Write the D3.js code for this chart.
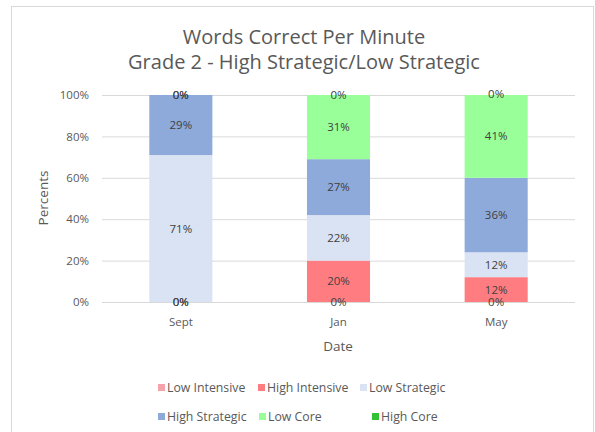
<!DOCTYPE html>
<html><head><meta charset="utf-8">
<script src="https://cdn.jsdelivr.net/npm/d3@7/dist/d3.min.js"></script>
<style>body{margin:0;background:#fff}svg{display:block}</style>
</head><body>
<script>
const categories = ["Sept", "Jan", "May"];
const seriesNames = ["Low Intensive", "High Intensive", "Low Strategic", "High Strategic", "Low Core", "High Core"];
const lowIntensive = [0, 0, 0];
const highIntensive = [0, 20, 12];
const lowStrategic = [71, 22, 12];
const highStrategic = [29, 27, 36];
const lowCore = [0, 31, 41];
const highCore = [0, 0, 0];
const yTicks = [0, 20, 40, 60, 80, 100];
const colors = ["#f4a3aa", "#ff7c80", "#dae3f3", "#8eaadb", "#99ff99", "#33c233"];

const W = 595, H = 432;
const svg = d3.select("body").append("svg").attr("width", W).attr("height", H);
svg.append("rect").attr("x", 11.5).attr("y", 6.5).attr("width", 582).attr("height", 440)
  .attr("fill", "#fff").attr("stroke", "#d9d9d9");

const font = "'Open Sans', 'Noto Sans', sans-serif";
const textCol = "#595959";

svg.append("text").attr("x", 304).attr("y", 44).attr("text-anchor", "middle")
  .attr("font-family", font).attr("font-size", 20).attr("fill", textCol).text("Words Correct Per Minute");
svg.append("text").attr("x", 304).attr("y", 69).attr("text-anchor", "middle")
  .attr("font-family", font).attr("font-size", 20).attr("fill", textCol).text("Grade 2 - High Strategic/Low Strategic");

const x0 = 102, x1 = 575, yTop = 95, yBot = 302;
const x = d3.scaleBand().domain(categories).range([x0, x1]).paddingInner(0.6).paddingOuter(0.3);
const y = d3.scaleLinear().domain([0, 100]).range([yBot, yTop]);

// gridlines
svg.append("g").selectAll("line").data(yTicks).join("line")
  .attr("x1", x0).attr("x2", x1).attr("y1", d => y(d) + 0.5).attr("y2", d => y(d) + 0.5)
  .attr("stroke", "#d9d9d9").attr("stroke-width", 1);

// y axis labels
const yAxis = d3.axisLeft(y).tickValues(yTicks).tickFormat(d => d + "%").tickSize(0).tickPadding(0);
const ya = svg.append("g").attr("transform", `translate(89,0)`).call(yAxis);
ya.select(".domain").remove();
ya.selectAll("text").attr("font-family", font).attr("font-size", 11.5).attr("fill", textCol);

// x axis labels
const xAxis = d3.axisBottom(x).tickSize(0).tickPadding(0);
const xa = svg.append("g").attr("transform", `translate(0,${yBot + 16})`).call(xAxis);
xa.select(".domain").remove();
xa.selectAll("text").attr("font-family", font).attr("font-size", 11.5).attr("fill", textCol);

svg.append("text").attr("x", 338).attr("y", 351).attr("text-anchor", "middle")
  .attr("font-family", font).attr("font-size", 13.5).attr("fill", textCol).text("Date");
svg.append("text").attr("transform", "translate(48,198) rotate(-90)").attr("text-anchor", "middle")
  .attr("font-family", font).attr("font-size", 13.5).attr("fill", textCol).text("Percents");

// data table
const seriesArrays = [lowIntensive, highIntensive, lowStrategic, highStrategic, lowCore, highCore];
const table = categories.map((c, i) => {
  const o = { cat: c };
  seriesNames.forEach((s, j) => o[s] = seriesArrays[j][i]);
  return o;
});
const stack = d3.stack().keys(seriesNames)(table);

const gBars = svg.append("g");
stack.forEach((layer, j) => {
  gBars.selectAll(null).data(layer).join("rect")
    .attr("x", d => x(d.data.cat))
    .attr("width", x.bandwidth())
    .attr("y", d => y(Math.min(d[1], 100)))
    .attr("height", d => Math.max(0, y(d[0]) - y(Math.min(d[1], 100))))
    .attr("fill", colors[j]);
});
stack.forEach((layer, j) => {
  gBars.selectAll(null).data(layer).join("text")
    .attr("x", d => x(d.data.cat) + x.bandwidth() / 2)
    .attr("y", d => y((d[0] + Math.min(d[1], 100)) / 2))
    .attr("dy", "0.35em").attr("text-anchor", "middle")
    .attr("font-family", font).attr("font-size", 11.5).attr("fill", "#404040")
    .text(d => (d[1] - d[0]) + "%");
});

// legend
const legendPos = [[158, 388], [258, 388], [360, 388], [158, 417], [259, 417], [372, 417]];
const lg = svg.append("g");
seriesNames.forEach((s, j) => {
  const [lx, ly] = legendPos[j];
  lg.append("rect").attr("x", lx).attr("y", ly - 4).attr("width", 7).attr("height", 7).attr("fill", colors[j]);
  lg.append("text").attr("x", lx + 9).attr("y", ly).attr("dy", "0.35em")
    .attr("font-family", font).attr("font-size", 12.3).attr("fill", textCol).text(s);
});
</script>
</body></html>
